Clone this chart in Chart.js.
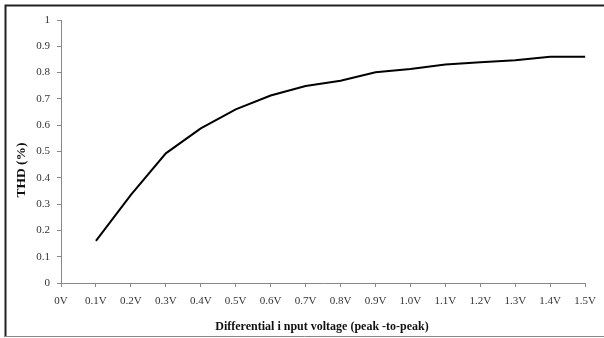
<!DOCTYPE html>
<html>
<head>
<meta charset="utf-8">
<script src="https://cdn.jsdelivr.net/npm/chart.js@4"></script>
<style>
html,body{margin:0;padding:0;background:#fff;}
#wrap{width:604px;height:338px;position:relative;}
</style>
</head>
<body>
<div id="wrap"><canvas id="c" width="604" height="338"></canvas></div>
<script>
const categories = ["0V","0.1V","0.2V","0.3V","0.4V","0.5V","0.6V","0.7V","0.8V","0.9V","1.0V","1.1V","1.2V","1.3V","1.4V","1.5V"];
const thdValues = [null,0.16,0.335,0.493,0.588,0.66,0.713,0.749,0.769,0.801,0.814,0.831,0.839,0.847,0.86,0.86];
const yTickLabels = ["0","0.1","0.2","0.3","0.4","0.5","0.6","0.7","0.8","0.9","1"];
const xTitle = "Differential i nput voltage (peak -to-peak)";
const yTitle = "THD (%)";

const frame = {
  id: 'frame',
  afterDraw(chart) {
    const ctx = chart.ctx;
    ctx.save();
    ctx.strokeStyle = '#222';
    ctx.lineWidth = 2;
    ctx.beginPath();
    ctx.moveTo(5.5, 337);
    ctx.lineTo(5.5, 5.5);
    ctx.lineTo(604, 5.5);
    ctx.stroke();
    ctx.strokeStyle = '#888';
    ctx.lineWidth = 1;
    ctx.beginPath();
    ctx.moveTo(5, 336.5);
    ctx.lineTo(604, 336.5);
    ctx.stroke();
    ctx.fillStyle = '#111';
    ctx.font = 'bold 12px "Liberation Serif"';
    ctx.textAlign = 'center';
    ctx.textBaseline = 'middle';
    ctx.fillText(xTitle, 322, 327);
    ctx.font = 'bold 13.5px "Liberation Serif"';
    ctx.translate(22, 170);
    ctx.rotate(-Math.PI/2);
    ctx.fillText(yTitle, 0, 0);
    ctx.restore();
  }
};

new Chart(document.getElementById('c'), {
  type: 'line',
  data: {
    labels: categories,
    datasets: [{
      data: thdValues,
      borderColor: '#000',
      borderWidth: 2,
      pointRadius: 0,
      tension: 0,
      fill: false,
      spanGaps: false
    }]
  },
  options: {
    responsive: false,
    animation: false,
    layout: { padding: { left: 0, right: 10, top: 20, bottom: 0 } },
    plugins: { legend: { display: false }, tooltip: { enabled: false } },
    scales: {
      x: {
        type: 'category',
        offset: false,
        grid: { display: true, drawOnChartArea: false, drawTicks: true, tickLength: 4, color: '#888' },
        border: { color: '#888', width: 1 },
        ticks: {
          color: '#333',
          font: { family: '"Liberation Serif"', size: 11 },
          padding: 8,
          maxRotation: 0,
          autoSkip: false
        },
        afterFit(scale) { scale.height = 55; }
      },
      y: {
        min: 0, max: 1,
        grid: { display: true, drawOnChartArea: false, drawTicks: true, tickLength: 4, color: '#888' },
        border: { color: '#888', width: 1 },
        ticks: {
          stepSize: 0.1,
          color: '#333',
          font: { family: '"Liberation Serif"', size: 11 },
          padding: 7,
          callback: (v, i) => yTickLabels[i]
        },
        afterFit(scale) { scale.width = 61; }
      }
    }
  },
  plugins: [frame]
});
</script>
</body>
</html>
